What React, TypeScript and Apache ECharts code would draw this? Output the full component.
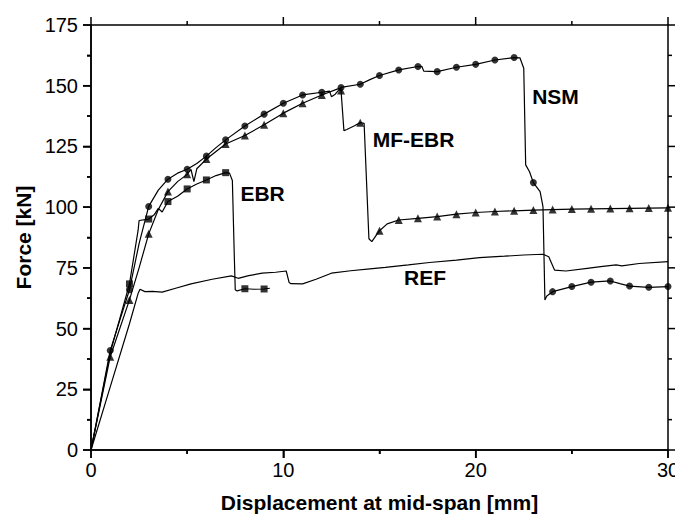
import React, { useEffect, useRef } from "react";
import * as echarts from "echarts";

const X_TICKS = [0, 10, 20, 30];
const Y_TICKS = [0, 25, 50, 75, 100, 125, 150, 175];

const REF: [number, number][] = [
  [0, 0], [1, 26], [2, 52], [2.45, 64.5], [2.55, 66.2], [2.8, 65.2], [3.2, 65.3], [3.7, 65],
  [4.4, 66.6], [5.2, 68.4], [6.3, 70.3], [7.3, 71.7], [7.65, 70.7], [8.2, 71.8], [8.9, 72.8],
  [9.6, 73.2], [10.15, 73.7], [10.3, 69], [10.4, 68.5], [11.0, 68.4], [11.7, 70.3], [12.5, 72.8],
  [13.5, 73.8], [14.5, 74.6], [15.3, 75.2], [16.5, 76.2], [17.6, 77.2], [19, 78.2], [20.2, 79.2],
  [21.5, 79.8], [22.5, 80.3], [23.5, 80.6], [23.8, 79.6], [24.1, 74.1], [24.7, 73.7], [25.8, 74.8],
  [26.5, 75.5], [27.3, 76.2], [27.6, 75.8], [28.5, 76.8], [30, 77.6],
];

const EBR: [number, number][] = [
  [0, 0], [1, 40], [2, 68.4], [2.45, 90.5], [2.5, 94.5], [3, 95.1], [3.3, 97], [3.5, 99.5],
  [3.7, 98], [4, 102.3], [4.5, 104.5], [5, 107.5], [5.5, 109.5], [6, 111.2], [6.5, 113],
  [7, 114.2], [7.2, 114], [7.35, 111], [7.45, 80], [7.5, 66], [7.6, 65.5], [8, 66.4],
  [8.5, 66.2], [9, 66.3], [9.3, 66.6],
];
const EBR_MARK_X = [2, 3, 4, 5, 6, 7, 8, 9];

const MF_EBR: [number, number][] = [
  [0, 0], [1, 38.4], [2, 61.8], [2.5, 75], [3, 89], [3.5, 99], [4, 106.4], [4.5, 110.5],
  [5, 113.5], [5.2, 115.5], [5.35, 110.5], [5.5, 115.8], [6, 119.8], [7, 126], [8, 129.5],
  [9, 133.9], [10, 138.7], [11, 142.8], [12, 146.2], [12.9, 148.9], [13, 148], [13.15, 131.5],
  [13.3, 132], [13.7, 133.5], [14, 134.8], [14.2, 134.5], [14.45, 87], [14.6, 85.8], [15, 90.3],
  [15.4, 93.1], [16, 94.7], [17, 95.4], [18, 96.1], [19, 97.1], [20, 97.8], [21, 98.2],
  [22, 98.5], [23, 98.8], [24, 99], [25, 99.2], [26, 99.3], [27, 99.4], [28, 99.5], [29, 99.6],
  [30, 99.7],
];
const MF_EBR_MARK_X = [1, 2, 3, 4, 5, 6, 7, 8, 9, 10, 11, 12, 13, 14, 15, 16, 17, 18, 19, 20,
  21, 22, 23, 24, 25, 26, 27, 28, 29, 30];

const NSM: [number, number][] = [
  [0, 0], [1, 41], [2, 66], [2.5, 85], [3, 100.3], [3.5, 107], [4, 111.5], [4.5, 114],
  [5, 115.6], [5.5, 118], [6, 121], [6.5, 124.5], [7, 127.7], [8, 133.4], [9, 138.3],
  [10, 142.8], [11, 146.2], [12, 147.3], [12.4, 147.8], [12.5, 145.5], [12.7, 146.5],
  [13, 149.3], [14, 150.6], [14.5, 152.5], [15, 154.2], [16, 156.5], [17, 157.9], [17.2, 158],
  [17.3, 156], [18, 155.8], [19, 157.6], [20, 158.8], [21, 160.6], [22, 161.6], [22.3, 161.5],
  [22.5, 157.2], [22.6, 117.4], [22.8, 114.6], [23, 110.1], [23.35, 106.4], [23.5, 100.2],
  [23.6, 61.8], [23.7, 63.4], [24, 65.2], [25, 67.3], [26, 69.1], [27, 69.6], [27.5, 68.5],
  [28, 67.5], [29, 67.0], [30, 67.3],
];
const NSM_MARK_X = [1, 2, 3, 4, 5, 6, 7, 8, 9, 10, 11, 12, 13, 14, 15, 16, 17, 18, 19, 20,
  21, 22, 23, 24, 25, 26, 27, 28, 29, 30];

const ANNOTATIONS = ["NSM", "MF-EBR", "EBR", "REF"];

const FONT = "'Liberation Sans', Arial, Helvetica, sans-serif";

function marks(curve: [number, number][], xs: number[]) {
  return xs
    .map((x) => curve.find((p) => p[0] === x))
    .filter((p) => !!p) as [number, number][];
}

// major ticks plus the midpoints between them (minor ticks)
function withMinor(ticks: number[]) {
  const out: [number, boolean][] = [];
  ticks.forEach((t, i) => {
    out.push([t, true]);
    if (i < ticks.length - 1) out.push([(t + ticks[i + 1]) / 2, false]);
  });
  return out;
}

export default function App() {
  const ref = useRef<HTMLDivElement>(null);
  useEffect(() => {
    if (!ref.current) return;
    const chart = echarts.init(ref.current, null, { renderer: "svg" });
    const xMin = X_TICKS[0];
    const xMax = X_TICKS[X_TICKS.length - 1];
    const yMin = Y_TICKS[0];
    const yMax = Y_TICKS[Y_TICKS.length - 1];
    const tickStyle = { color: "#000", width: 1.5 };
    const axisCommon = {
      type: "value" as const,
      axisLine: { show: true, onZero: false, lineStyle: { color: "#000", width: 1.5 } },
      axisTick: { show: true, inside: false, length: 8, lineStyle: tickStyle },
      minorTick: { show: true, splitNumber: 2, length: 4, lineStyle: tickStyle },
      splitLine: { show: false },
      minorSplitLine: { show: false },
    };
    const lineStyle = { color: "#000", width: 1.2 };
    const lineSeries = (name: string, data: [number, number][]) => ({
      name,
      type: "line" as const,
      data,
      showSymbol: false,
      symbol: "none",
      lineStyle,
      z: 2,
    });
    const markSeries = (name: string, data: [number, number][], symbol: string, size: number) => ({
      name: name + "-marks",
      type: "scatter" as const,
      data,
      symbol,
      symbolSize: size,
      itemStyle: { color: "#000" },
      z: 3,
    });
    const annPos: Record<string, [number, number]> = {
      NSM: [24.15, 145.4],
      "MF-EBR": [16.77, 127.7],
      EBR: [8.92, 105.8],
      REF: [17.37, 71.0],
    };
    chart.setOption({
      animation: false,
      backgroundColor: "#fff",
      grid: {
        left: 91, right: 15, top: 25, bottom: 77, containLabel: false,
        show: true, borderColor: "#000", borderWidth: 1.5, backgroundColor: "transparent",
      },
      xAxis: {
        ...axisCommon,
        position: "bottom",
        min: xMin,
        max: xMax,
        interval: 10,
        axisLabel: { color: "#000", fontSize: 20, fontFamily: FONT, margin: 10 },
        name: "Displacement at mid-span [mm]",
        nameLocation: "middle",
        nameGap: 42,
        nameTextStyle: { color: "#000", fontSize: 21, fontWeight: "bold", fontFamily: FONT },
      },
      yAxis: {
        ...axisCommon,
        position: "left",
        min: yMin,
        max: yMax,
        interval: 25,
        axisLabel: { color: "#000", fontSize: 20, fontFamily: FONT, margin: 13 },
        name: "Force [kN]",
        nameLocation: "middle",
        nameGap: 54,
        nameTextStyle: { color: "#000", fontSize: 21, fontWeight: "bold", fontFamily: FONT },
      },
      series: [
        lineSeries("REF", REF),
        lineSeries("EBR", EBR),
        markSeries("EBR", marks(EBR, EBR_MARK_X), "rect", 7),
        lineSeries("MF-EBR", MF_EBR),
        markSeries("MF-EBR", marks(MF_EBR, MF_EBR_MARK_X), "triangle", 8),
        lineSeries("NSM", NSM),
        markSeries("NSM", marks(NSM, NSM_MARK_X), "circle", 7),
      ],
    });
    const px = (v: [number, number]) => chart.convertToPixel({ gridIndex: 0 }, v) as number[];
    const texts = ANNOTATIONS.map((t) => {
      const p = px(annPos[t]);
      return {
        type: "text",
        x: p[0],
        y: p[1],
        style: {
          text: t,
          fill: "#000",
          font: `bold 21px ${FONT}`,
          textAlign: "center",
          textVerticalAlign: "middle",
        },
      };
    });
    const tick = (x1: number, y1: number, x2: number, y2: number) => ({
      type: "line",
      shape: { x1, y1, x2, y2 },
      style: { stroke: "#000", lineWidth: 1.5 },
      silent: true,
      z: 10,
    });
    const ticks: any[] = [];
    withMinor(X_TICKS).forEach(([v, major]) => {
      const len = major ? 8 : 4;
      const top = px([v, yMax]);
      const bot = px([v, yMin]);
      ticks.push(tick(top[0], top[1], top[0], top[1] - len));
      ticks.push(tick(bot[0], bot[1], bot[0], bot[1] + len));
    });
    withMinor(Y_TICKS).forEach(([v, major]) => {
      const len = major ? 8 : 4;
      const right = px([xMax, v]);
      const left = px([xMin, v]);
      ticks.push(tick(right[0], right[1], right[0] + len, right[1]));
      ticks.push(tick(left[0], left[1], left[0] - len, left[1]));
    });
    chart.setOption({ graphic: [...texts, ...ticks] });
    return () => chart.dispose();
  }, []);
  return <div ref={ref} style={{ width: 683, height: 527, margin: -8 }} />;
}
